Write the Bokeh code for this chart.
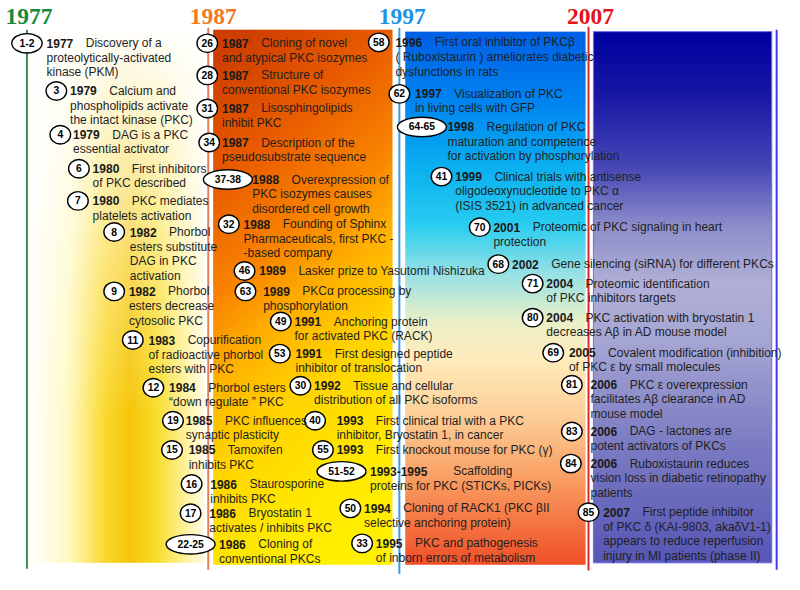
import numpy as np
from bokeh.plotting import figure
from bokeh.models import Range1d
from bokeh.core.properties import value
from bokeh.embed import file_html
from bokeh.resources import INLINE

# ---------------- data ----------------
decades = ["1977", "1987", "1997", "2007"]
decade_colors = ["#178a3c", "#f27a1e", "#1e94e6", "#e3141b"]

refs = ["1-2", "3", "4", "6", "7", "8", "9", "11", "12", "19", "15", "16", "17", "22-25",
        "26", "28", "31", "34", "37-38", "32", "46", "63", "49", "53", "30", "40", "55",
        "51-52", "50", "33", "58", "62", "64-65", "41", "70", "68", "71", "80", "69",
        "81", "83", "84", "85"]

years = ["1977", "1979", "1979", "1980", "1980", "1982", "1982", "1983", "1984", "1985",
         "1985", "1986", "1986", "1986", "1987", "1987", "1987", "1987", "1988", "1988",
         "1989", "1989", "1991", "1991", "1992", "1993", "1993", "1993-1995", "1994",
         "1995", "1996", "1997", "1998", "1999", "2001", "2002", "2004", "2004", "2005",
         "2006", "2006", "2006", "2007"]

descriptions = [
    "Discovery of a\nproteolytically-activated\nkinase (PKM)",
    "Calcium and\nphospholipids activate\n the intact kinase (PKC)",
    "DAG  is  a PKC\nessential  activator",
    "First  inhibitors\nof PKC described",
    "PKC  mediates\nplatelets activation",
    "Phorbol\nesters substitute\nDAG  in PKC\nactivation",
    "Phorbol\nesters decrease\ncytosolic  PKC",
    "Copurification\nof radioactive phorbol\nesters  with PKC",
    "Phorbol esters\n\u201cdown regulate \u201d PKC",
    "PKC  influences\nsynaptic plasticity",
    "Tamoxifen\n inhibits PKC",
    "Staurosporine\ninhibits PKC",
    "Bryostatin 1\n activates / inhibits PKC",
    "Cloning of\nconventional PKCs",
    "Cloning of novel\nand atypical PKC  isozymes",
    "Structure of\nconventional PKC isozymes",
    "Lisosphingolipids\ninhibit PKC",
    "Description of the\npseudosubstrate sequence",
    "Overexpression of\nPKC isozymes causes\ndisordered cell growth",
    "Founding of Sphinx\nPharmaceuticals,  first PKC -\n-based  company",
    "Lasker prize to Yasutomi  Nishizuka",
    "PKC\u03b1 processing by\nphosphorylation",
    "Anchoring protein\nfor  activated PKC (RACK)",
    "First designed peptide\ninhibitor of translocation",
    "Tissue and cellular\ndistribution of all PKC isoforms",
    "First  clinical trial with a PKC\ninhibitor, Bryostatin 1, in cancer",
    "First knockout  mouse for PKC (\u03b3)",
    "Scaffolding\nproteins for PKC (STICKs, PICKs)",
    "Cloning of RACK1 (PKC \u03b2II\nselective anchoring protein)",
    "PKC  and pathogenesis\nof inborn errors of metabolism",
    "First oral inhibitor of PKC\u03b2\n( Ruboxistaurin ) ameliorates diabetic\ndysfunctions in rats",
    "Visualization of PKC\nin living cells with  GFP",
    "Regulation of PKC\nmaturation  and competence\nfor activation by  phosphorylation",
    "Clinical trials with antisense\noligodeoxynucleotide to PKC  \u03b1\n(ISIS 3521) in advanced cancer",
    "Proteomic  of PKC signaling in heart\nprotection",
    "Gene silencing (siRNA) for different PKCs",
    "Proteomic identification\nof PKC  inhibitors targets",
    "PKC activation  with bryostatin 1\ndecreases A\u03b2 in AD mouse model",
    "Covalent modification (inhibition)\nof PKC \u03b5 by  small molecules",
    "PKC \u03b5 overexpression\nfacilitates A\u03b2 clearance in AD\nmouse model",
    "DAG - lactones  are\npotent activators of PKCs",
    "Ruboxistaurin reduces\nvision loss in diabetic retinopathy\npatients",
    "First  peptide  inhibitor\n of PKC \u03b4 (KAI-9803, aka\u03b4V1-1)\nappears to reduce reperfusion\ninjury in MI patients (phase II)",
]

# ---------------- layout (reference pixel coordinates, y downward) ----------------
badge_x = [27, 57, 61, 80, 79, 116, 116, 135, 156, 176, 175, 195, 194, 194,
           211, 211, 211, 213, 232, 233, 249, 250, 286, 285, 306, 321, 329,
           348, 357, 369, 386, 407, 430, 450, 489, 508, 543, 543, 564,
           583, 583, 582, 600]
badge_y = [44, 93, 138, 173, 206, 238, 299, 349, 398, 432, 462, 497, 527, 559,
           44, 77, 111, 146, 184, 230, 278, 299, 330, 363, 396, 432, 462,
           484, 522, 558, 43, 96, 130, 181, 233, 271, 291, 326, 362,
           395, 443, 476, 526]
text_x = [47, 71, 74, 94, 94, 132, 131, 151, 172, 189, 192, 214, 213, 223,
          226, 226, 226, 226, 257, 248, 264, 268, 300, 301, 320, 343, 343,
          377, 371, 383, 403, 423, 456, 464, 503, 522, 557, 557, 580,
          602, 602, 602, 615]
decade_x = [27, 212, 407, 600]
LINE_H = 15.0
FS = "12px"


def Y(y):
    return 590.0 - y


p = figure(width=784, height=574, x_range=Range1d(0, 800), y_range=Range1d(0, 590),
           output_backend="svg", toolbar_location=None, min_border=0)
p.axis.visible = False
p.grid.visible = False
p.outline_line_color = None
p.background_fill_color = "white"
p.border_fill_color = "white"


# ---------------- gradient backgrounds ----------------
def interp_stops(vals, stops):
    pos = np.array([s[0] for s in stops], float)
    cols = np.array([s[1] for s in stops], float)
    return np.stack([np.interp(vals, pos, cols[:, c]) for c in range(3)], axis=-1)


def to_rgba(rgb):
    h, w, _ = rgb.shape
    img = np.empty((h, w), dtype=np.uint32)
    v = img.view(dtype=np.uint8).reshape((h, w, 4))
    v[:, :, :3] = np.clip(rgb[::-1], 0, 255).astype(np.uint8)
    v[:, :, 3] = 255
    return img


def add_region(x0, x1, y0, y1, fn):
    w, h = int(x1 - x0), int(y1 - y0)
    xs = x0 + np.arange(w) + 0.5
    ys = y0 + np.arange(h) + 0.5
    X, YY = np.meshgrid(xs, ys)
    rgb = fn(X, YY)
    p.image_rgba(image=[to_rgba(rgb)], x=x0, y=Y(y1), dw=w, dh=h)


def left_fn(X, YY):
    horiz = [(30, (255, 255, 255)), (70, (255, 250, 195)), (105, (251, 218, 50)),
             (132, (245, 198, 8)), (160, (250, 222, 45)), (190, (255, 244, 165)),
             (208, (255, 252, 232))]
    hc = interp_stops(X, horiz)
    t = np.interp(YY, [35, 150, 300, 430, 580], [0.03, 0.3, 0.72, 1.0, 1.0])[..., None]
    return 255 * (1 - t) + hc * t


def orange_fn(X, YY):
    s = np.clip(0.85 * (YY - 30) / 550 + 0.25 * (X - 217) / 183 - 0.05, 0, 1)
    stops = [(0.0, (206, 62, 0)), (0.2, (234, 92, 0)), (0.38, (249, 132, 0)),
             (0.5, (255, 175, 0)), (0.65, (255, 212, 0)), (0.85, (255, 234, 0)),
             (1.0, (255, 240, 0))]
    return interp_stops(s, stops)


def blue_fn(X, YY):
    stops = [(32, (0, 96, 230)), (100, (0, 130, 240)), (170, (10, 175, 240)),
             (230, (40, 205, 240)), (280, (150, 225, 230)), (330, (235, 240, 200)),
             (370, (255, 236, 188)), (430, (252, 205, 150)), (490, (250, 160, 100)),
             (540, (245, 115, 65)), (580, (240, 80, 40))]
    return interp_stops(YY, stops)


def dark_fn(X, YY):
    stops = [(32, (0, 0, 160)), (100, (25, 25, 165)), (170, (70, 70, 182)),
             (230, (140, 140, 202)), (290, (176, 176, 216)), (350, (166, 166, 212)),
             (450, (126, 126, 196)), (580, (86, 86, 182))]
    return interp_stops(YY, stops)


add_region(30, 209, 32, 578, left_fn)
add_region(217, 400, 30, 580, orange_fn)
add_region(413, 597, 32, 580, blue_fn)
add_region(605, 787, 32, 578, dark_fn)
p.quad(left=605, right=787, top=Y(32), bottom=Y(578), fill_alpha=0,
       line_color="#6c6cf0", line_width=1)

# ---------------- vertical decade lines ----------------
line_x = decade_x + [792]
line_c = ["#3f8f52", "#e2805a", "#3d9be0", "#e02828", "#3a3ae8"]
line_top = [30, 28, 28, 27, 30]
line_bot = [584, 585, 590, 586, 585]
p.segment(x0=line_x, x1=line_x, y0=[Y(v) for v in line_top], y1=[Y(v) for v in line_bot],
          line_color=line_c, line_width=2)

# decade titles
p.text(x=[29, 217, 410, 602], y=[Y(16)] * 4, text=decades, text_color=decade_colors,
       text_font=value("Liberation Serif"), text_font_style="bold",
       text_font_size="23.5px", text_align="center", text_baseline="middle")

# ---------------- badges ----------------
bw = [(31 if len(r) == 3 else 50) if "-" in r else 21 for r in refs]
bh = [19 if "-" not in r else 20 for r in refs]
p.ellipse(x=badge_x, y=[Y(v) for v in badge_y], width=bw, height=bh,
          fill_color="white", line_color="black", line_width=1.4)
p.text(x=badge_x, y=[Y(v) + 0.5 for v in badge_y], text=refs, text_color="black",
       text_font=value("Liberation Sans"), text_font_style="bold",
       text_font_size="10.3px", text_align="center", text_baseline="middle")

# ---------------- event texts ----------------
yx, yy, dx, dy, dt = [], [], [], [], []
for i, d in enumerate(descriptions):
    lines = d.split("\n")
    gap = 40 if len(years[i]) == 4 else 85
    yx.append(text_x[i])
    yy.append(Y(badge_y[i]))
    dx.append(text_x[i] + gap)
    dy.append(Y(badge_y[i]))
    dt.append(lines[0])
    for k, ln in enumerate(lines[1:], start=1):
        dx.append(text_x[i])
        dy.append(Y(badge_y[i] + k * LINE_H))
        dt.append(ln)

p.text(x=yx, y=yy, text=years, text_color="#1a1a1a", text_font=value("Liberation Sans"),
       text_font_style="bold", text_font_size=FS, text_baseline="middle")
p.text(x=dx, y=dy, text=dt, text_color="#1f1f1f", text_font=value("Liberation Sans"),
       text_font_size=FS, text_baseline="middle")

open("out.html", "w").write(file_html(p, INLINE))
